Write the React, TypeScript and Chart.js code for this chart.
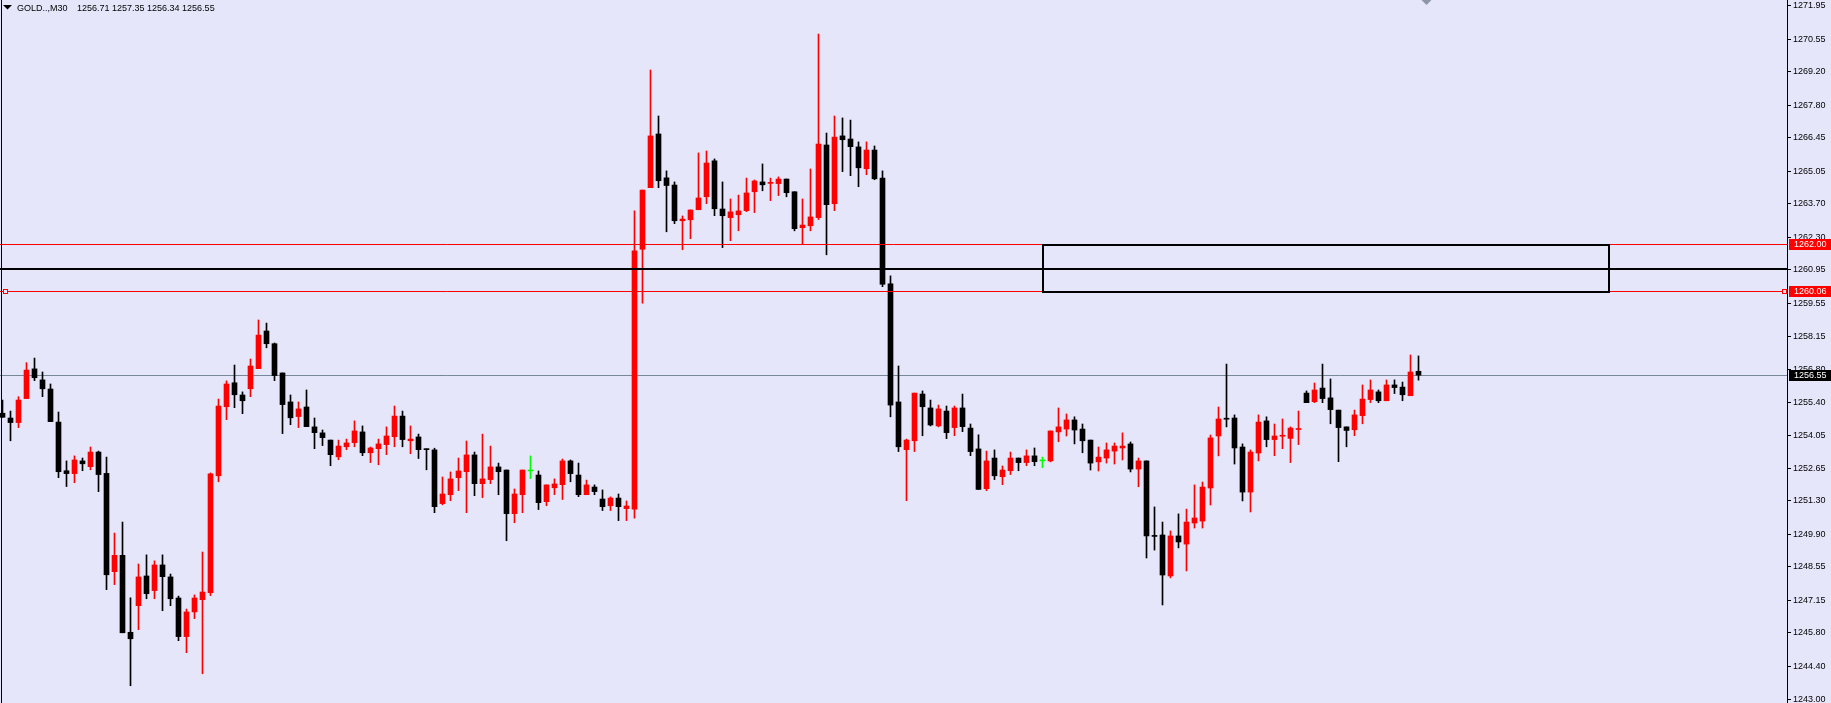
import React, { useEffect, useRef } from 'react';
import { Chart, registerables } from 'chart.js';

Chart.register(...registerables);

const SYMBOL = 'GOLD..,M30';

const OPEN = [
  1254.96, 1254.76, 1254.57, 1255.57, 1256.81, 1256.35, 1255.97, 1254.59, 1252.56, 1252.44,
  1252.97, 1252.73, 1253.34, 1252.45, 1248.35, 1249.03, 1245.82, 1246.93, 1248.17, 1247.56,
  1248.63, 1248.13, 1247.25, 1245.64, 1246.67, 1247.18, 1247.47, 1252.35, 1255.23, 1256.23,
  1255.72, 1255.98, 1256.82, 1258.39, 1257.86, 1256.64, 1255.43, 1254.82, 1255.22, 1254.39,
  1254.14, 1253.84, 1253.14, 1253.56, 1253.73, 1254.18, 1253.31, 1253.48, 1253.65, 1253.98,
  1254.84, 1253.81, 1253.97, 1253.47, 1253.43, 1251.19, 1251.56, 1252.27, 1252.52, 1253.22,
  1252.02, 1252.19, 1252.72, 1252.59, 1250.77, 1251.56, 1252.55, 1252.38, 1251.27, 1251.85,
  1251.98, 1252.97, 1252.38, 1251.56, 1251.88, 1251.38, 1251.10, 1251.42, 1250.98, 1250.96,
  1261.80, 1264.37, 1266.61, 1264.78, 1264.48, 1262.99, 1263.03, 1263.45, 1263.99, 1265.49,
  1263.48, 1263.12, 1263.24, 1263.41, 1264.20, 1264.61, 1264.55, 1264.54, 1264.73, 1264.20,
  1262.70, 1262.78, 1263.12, 1266.15, 1263.70, 1266.53, 1266.40, 1266.07, 1265.16, 1265.94,
  1264.77, 1260.36, 1255.43, 1253.44, 1253.81, 1255.76, 1255.18, 1254.43, 1255.05, 1254.36,
  1255.18, 1254.34, 1253.47, 1251.81, 1253.09, 1252.31, 1252.56, 1253.09, 1252.90, 1253.18,
  1252.97, 1252.97, 1254.18, 1254.30, 1254.68, 1254.30, 1253.84, 1252.93, 1253.09, 1253.38,
  1253.51, 1253.68, 1252.63, 1252.97, 1249.84, 1249.88, 1248.17, 1249.84, 1249.50, 1250.38,
  1250.46, 1251.84, 1254.01, 1254.72, 1254.76, 1253.55, 1251.67, 1253.30, 1254.64, 1253.86,
  1254.00, 1253.91, 1254.28, 1255.80, 1255.44, 1256.01, 1255.60, 1255.09, 1254.39, 1254.27,
  1254.86, 1255.53, 1255.85, 1255.48, 1256.14, 1256.05, 1255.69, 1256.71,
];

const HIGH = [
  1255.51, 1255.05, 1255.65, 1257.07, 1257.26, 1256.68, 1256.18, 1255.01, 1252.97, 1253.18,
  1253.09, 1253.55, 1253.38, 1253.13, 1249.96, 1250.42, 1247.26, 1248.67, 1249.05, 1248.80,
  1249.05, 1248.25, 1247.33, 1246.79, 1247.38, 1249.17, 1252.47, 1255.55, 1256.31, 1256.97,
  1255.85, 1257.22, 1258.85, 1258.72, 1257.89, 1256.64, 1255.72, 1255.43, 1255.93, 1254.76,
  1254.26, 1253.84, 1253.84, 1253.88, 1254.64, 1254.43, 1253.55, 1253.88, 1254.39, 1255.26,
  1255.05, 1254.43, 1254.09, 1253.47, 1253.50, 1252.30, 1252.51, 1253.09, 1253.80, 1253.34,
  1254.09, 1253.59, 1252.88, 1252.59, 1251.80, 1252.59, 1253.18, 1252.55, 1251.97, 1252.22,
  1253.05, 1253.01, 1252.88, 1252.17, 1251.97, 1251.76, 1251.47, 1251.59, 1251.30, 1263.40,
  1264.27, 1269.28, 1267.36, 1265.07, 1264.61, 1263.19, 1263.44, 1265.82, 1265.90, 1265.57,
  1264.61, 1263.90, 1264.06, 1264.77, 1264.69, 1265.36, 1264.77, 1264.82, 1264.73, 1264.20,
  1263.90, 1265.15, 1270.78, 1266.65, 1267.36, 1267.28, 1267.19, 1266.28, 1266.28, 1266.11,
  1265.07, 1260.69, 1256.93, 1253.88, 1255.80, 1255.89, 1255.51, 1255.30, 1255.26, 1255.26,
  1255.76, 1254.51, 1254.06, 1253.38, 1253.43, 1252.76, 1253.34, 1253.09, 1253.43, 1253.51,
  1253.13, 1254.22, 1255.18, 1254.93, 1254.81, 1254.51, 1253.84, 1253.55, 1253.72, 1253.72,
  1254.14, 1253.76, 1253.09, 1252.97, 1251.05, 1250.42, 1250.05, 1250.76, 1250.96, 1251.97,
  1252.09, 1254.05, 1255.22, 1257.01, 1254.89, 1253.68, 1253.43, 1254.89, 1254.81, 1254.51,
  1254.72, 1254.39, 1255.05, 1255.89, 1256.22, 1257.01, 1256.39, 1255.09, 1254.39, 1255.09,
  1256.14, 1256.35, 1255.93, 1256.35, 1256.35, 1256.26, 1257.39, 1257.35,
];

const LOW = [
  1254.79, 1253.81, 1254.36, 1255.57, 1256.32, 1255.65, 1254.61, 1252.27, 1251.90, 1252.06,
  1252.56, 1252.60, 1251.69, 1247.60, 1247.81, 1245.80, 1243.59, 1245.93, 1247.22, 1247.22,
  1246.72, 1246.93, 1245.47, 1244.97, 1246.39, 1244.09, 1247.35, 1252.10, 1254.69, 1255.19,
  1254.94, 1255.65, 1256.82, 1257.69, 1256.32, 1254.11, 1254.48, 1254.36, 1254.40, 1253.48,
  1253.61, 1252.77, 1253.02, 1253.44, 1253.56, 1253.19, 1252.90, 1252.81, 1253.23, 1253.56,
  1253.56, 1253.27, 1253.07, 1252.60, 1250.81, 1251.14, 1251.31, 1251.73, 1250.81, 1251.52,
  1251.44, 1252.02, 1251.56, 1249.64, 1250.39, 1250.81, 1252.23, 1250.94, 1251.10, 1251.56,
  1251.36, 1252.10, 1251.48, 1251.56, 1251.56, 1250.90, 1250.90, 1250.48, 1250.48, 1250.58,
  1259.55, 1264.37, 1264.37, 1262.53, 1262.87, 1261.78, 1262.24, 1263.45, 1263.70, 1263.20,
  1261.87, 1262.16, 1262.57, 1263.37, 1263.33, 1264.24, 1263.83, 1264.04, 1263.99, 1262.57,
  1262.03, 1262.57, 1263.04, 1261.57, 1263.41, 1265.04, 1264.87, 1264.41, 1264.91, 1264.70,
  1260.24, 1254.81, 1253.36, 1251.31, 1253.36, 1254.02, 1254.43, 1254.39, 1253.90, 1254.02,
  1254.19, 1253.19, 1251.78, 1251.73, 1252.19, 1251.98, 1252.40, 1252.56, 1252.77, 1252.77,
  1252.69, 1252.93, 1253.77, 1254.01, 1253.68, 1253.31, 1252.59, 1252.55, 1252.88, 1252.84,
  1253.01, 1252.51, 1251.89, 1248.92, 1249.25, 1246.96, 1248.09, 1249.34, 1248.38, 1250.17,
  1250.17, 1251.13, 1253.18, 1254.39, 1252.84, 1251.30, 1250.84, 1252.97, 1253.56, 1253.19,
  1253.48, 1252.90, 1253.65, 1255.40, 1255.40, 1255.40, 1254.52, 1252.94, 1253.56, 1254.02,
  1254.52, 1255.40, 1255.40, 1255.48, 1255.78, 1255.48, 1255.69, 1256.34,
];

const CLOSE = [
  1254.79, 1254.57, 1255.51, 1256.76, 1256.44, 1255.98, 1254.61, 1252.52, 1252.44, 1253.01,
  1252.85, 1253.34, 1252.40, 1248.22, 1249.03, 1245.80, 1245.55, 1248.13, 1247.43, 1248.63,
  1248.14, 1247.22, 1245.64, 1246.67, 1247.25, 1247.50, 1252.43, 1255.26, 1256.18, 1255.73,
  1255.48, 1256.93, 1258.22, 1257.86, 1256.53, 1255.32, 1254.77, 1255.14, 1254.40, 1254.15,
  1253.94, 1253.23, 1253.59, 1253.72, 1254.22, 1253.31, 1253.51, 1253.68, 1254.01, 1254.84,
  1253.86, 1253.88, 1253.44, 1253.44, 1251.06, 1251.59, 1252.22, 1252.55, 1253.22, 1252.02,
  1252.22, 1252.72, 1252.52, 1250.77, 1251.59, 1252.59, 1252.55, 1251.23, 1251.97, 1252.01,
  1252.97, 1252.44, 1251.56, 1251.97, 1251.69, 1251.06, 1251.42, 1251.06, 1251.09, 1261.73,
  1264.27, 1266.53, 1264.66, 1264.46, 1262.99, 1263.06, 1263.44, 1263.94, 1265.40, 1263.49,
  1263.20, 1263.36, 1263.40, 1264.15, 1264.65, 1264.49, 1264.57, 1264.73, 1264.16, 1262.66,
  1262.81, 1263.15, 1266.19, 1263.66, 1266.48, 1266.37, 1266.08, 1265.20, 1265.94, 1264.74,
  1260.34, 1255.30, 1253.56, 1253.84, 1255.80, 1255.23, 1254.47, 1255.14, 1254.15, 1255.18,
  1254.40, 1253.36, 1251.78, 1252.97, 1252.35, 1252.59, 1253.09, 1252.90, 1253.18, 1252.94,
  1252.97, 1254.22, 1254.39, 1254.68, 1254.26, 1253.81, 1252.88, 1253.13, 1253.43, 1253.59,
  1253.59, 1252.63, 1252.97, 1249.84, 1249.82, 1248.21, 1249.84, 1249.59, 1250.42, 1250.59,
  1251.88, 1253.93, 1254.72, 1254.71, 1253.51, 1251.67, 1253.34, 1254.59, 1253.86, 1254.01,
  1254.01, 1254.34, 1254.29, 1255.40, 1255.93, 1255.57, 1255.11, 1254.36, 1254.24, 1254.89,
  1255.55, 1255.93, 1255.48, 1256.14, 1256.03, 1255.73, 1256.68, 1256.55,
];

const Y_TICKS = [
  1271.95, 1270.55, 1269.2, 1267.8, 1266.45, 1265.05, 1263.7, 1262.3, 1260.95, 1259.55, 1258.15,
  1256.8, 1255.4, 1254.05, 1252.65, 1251.3, 1249.9, 1248.55, 1247.15, 1245.8, 1244.4, 1243.0,
];
const Y_RANGE = [1242.87, 1272.2];
const X_RANGE = [-0.3125, 223.0625];

const RED_LEVELS = [1262.0, 1260.06];
const BLACK_LEVEL = 1260.97;
const BID = 1256.55;
const ZONE_X = [130, 200.8];
const ZONE_Y = [1260.03, 1261.98];

const BG = '#E6E6FA';
const UP_COLOR = '#FF0000';
const DOWN_COLOR = '#000000';
const DOJI_COLOR = '#00FF00';
const BID_COLOR = '#778899';
const FONT_FAMILY = '"Liberation Sans", Arial, sans-serif';

function candleColor(i: number): string {
  if (CLOSE[i] > OPEN[i]) return UP_COLOR;
  if (CLOSE[i] < OPEN[i]) return DOWN_COLOR;
  return DOJI_COLOR;
}

export default function App() {
  const ref = useRef<HTMLCanvasElement>(null);

  useEffect(() => {
    const canvas = ref.current;
    if (!canvas) return;
    const idx = OPEN.map((_, i) => i);
    const colors = idx.map(candleColor);

    const mt4Plugin = {
      id: 'mt4',
      beforeDraw(chart: any) {
        const ctx = chart.ctx;
        ctx.save();
        ctx.fillStyle = BG;
        ctx.fillRect(0, 0, chart.width, chart.height);
        ctx.restore();
      },
      beforeDatasetsDraw(chart: any) {
        const { ctx, chartArea: a } = chart;
        const y = chart.scales.y;
        const py = Math.round(y.getPixelForValue(BID)) + 0.5;
        ctx.save();
        ctx.strokeStyle = BID_COLOR;
        ctx.lineWidth = 1;
        ctx.beginPath();
        ctx.moveTo(a.left, py);
        ctx.lineTo(a.right, py);
        ctx.stroke();
        ctx.restore();
      },
      afterDatasetsDraw(chart: any) {
        const { ctx, chartArea: a } = chart;
        const x = chart.scales.x;
        const y = chart.scales.y;
        ctx.save();
        ctx.strokeStyle = '#FF0000';
        ctx.lineWidth = 1;
        RED_LEVELS.forEach((v) => {
          const py = Math.round(y.getPixelForValue(v)) + 0.5;
          ctx.beginPath();
          ctx.moveTo(a.left, py);
          ctx.lineTo(a.right, py);
          ctx.stroke();
        });
        const by = Math.round(y.getPixelForValue(BLACK_LEVEL));
        ctx.fillStyle = '#000000';
        ctx.fillRect(a.left, by - 1, a.right - a.left, 2);

        const zx0 = Math.round(x.getPixelForValue(ZONE_X[0]));
        const zx1 = Math.round(x.getPixelForValue(ZONE_X[1]));
        const zy0 = Math.round(y.getPixelForValue(ZONE_Y[1]));
        const zy1 = Math.round(y.getPixelForValue(ZONE_Y[0]));
        ctx.strokeStyle = '#000000';
        ctx.lineWidth = 2;
        ctx.strokeRect(zx0, zy0, zx1 - zx0, zy1 - zy0);

        const sy = Math.round(y.getPixelForValue(RED_LEVELS[1]));
        [a.left + 3, a.right - 5].forEach((sx) => {
          ctx.fillStyle = BG;
          ctx.fillRect(sx, sy - 2, 5, 5);
          ctx.strokeStyle = '#FF0000';
          ctx.lineWidth = 1;
          ctx.strokeRect(sx + 0.5, sy - 2 + 0.5, 4, 4);
        });
        ctx.restore();
      },
      afterDraw(chart: any) {
        const { ctx, chartArea: a } = chart;
        const x = chart.scales.x;
        const y = chart.scales.y;
        ctx.save();
        ctx.font = `9px ${FONT_FAMILY}`;
        const marks: [number, string][] = [
          [RED_LEVELS[0], '#FF0000'],
          [RED_LEVELS[1], '#FF0000'],
          [BID, '#000000'],
        ];
        marks.forEach(([v, bg]) => {
          const py = Math.round(y.getPixelForValue(v));
          ctx.fillStyle = bg;
          ctx.fillRect(a.right + 2, py - 5, chart.width - a.right - 2, 11);
          ctx.fillStyle = '#FFFFFF';
          ctx.textAlign = 'left';
          ctx.textBaseline = 'middle';
          ctx.fillText(v.toFixed(2), a.right + 7, py + 0.5);
        });

        // left frame
        ctx.fillStyle = '#000000';
        ctx.fillRect(1, 0, 1, chart.height);

        // title
        ctx.beginPath();
        ctx.moveTo(3, 5);
        ctx.lineTo(12, 5);
        ctx.lineTo(7.5, 9.5);
        ctx.closePath();
        ctx.fill();
        const last = OPEN.length - 1;
        const ohlc = [OPEN[last], HIGH[last], LOW[last], CLOSE[last]].map((v) => v.toFixed(2)).join(' ');
        ctx.textAlign = 'left';
        ctx.textBaseline = 'alphabetic';
        ctx.fillText(SYMBOL, 17, 10.5);
        ctx.fillText(ohlc, 77, 10.5);

        // chart shift marker
        const shx = x.getPixelForValue(OPEN.length);
        ctx.fillStyle = '#8E96AA';
        ctx.beginPath();
        ctx.moveTo(shx - 5, 0);
        ctx.lineTo(shx + 5, 0);
        ctx.lineTo(shx, 5);
        ctx.closePath();
        ctx.fill();
        ctx.restore();
      },
    };

    const chart = new Chart(canvas, {
      type: 'bar',
      data: {
        datasets: [
          {
            label: 'body',
            data: idx.map((i) => ({ x: i, y: [OPEN[i], CLOSE[i]] })) as any,
            backgroundColor: colors,
            barThickness: 5,
            minBarLength: 1,
            grouped: false,
            borderWidth: 0,
            borderSkipped: false,
            order: 1,
          } as any,
          {
            label: 'wick',
            data: idx.map((i) => ({ x: i, y: [LOW[i], HIGH[i]] })) as any,
            backgroundColor: colors,
            barThickness: 1,
            minBarLength: 1,
            grouped: false,
            borderWidth: 0,
            borderSkipped: false,
            order: 2,
          } as any,
        ],
      },
      options: {
        responsive: false,
        maintainAspectRatio: false,
        animation: false,
        layout: { padding: 0 },
        plugins: {
          legend: { display: false },
          tooltip: { enabled: false },
          title: { display: false },
        },
        scales: {
          x: {
            type: 'linear',
            display: false,
            offset: false,
            min: X_RANGE[0],
            max: X_RANGE[1],
            grid: { display: false },
          },
          y: {
            type: 'linear',
            position: 'right',
            min: Y_RANGE[0],
            max: Y_RANGE[1],
            beginAtZero: false,
            afterFit: (s: any) => {
              s.width = 44;
              s.paddingTop = 0;
              s.paddingBottom = 0;
            },
            afterBuildTicks: (s: any) => {
              s.ticks = Y_TICKS.map((v) => ({ value: v }));
            },
            ticks: {
              autoSkip: false,
              padding: 2,
              color: '#000000',
              font: { family: FONT_FAMILY, size: 9 },
              callback: (v: any) => Number(v).toFixed(2),
            },
            grid: {
              display: true,
              drawOnChartArea: false,
              drawTicks: true,
              tickLength: 4,
              tickColor: '#000000',
              color: '#000000',
            },
            border: { display: true, color: '#000000', width: 1 },
          },
        },
      } as any,
      plugins: [mt4Plugin],
    });

    return () => chart.destroy();
  }, []);

  return (
    <div style={{ position: 'absolute', left: 0, top: 0, width: 1831, height: 703 }}>
      <canvas ref={ref} width={1831} height={703} style={{ display: 'block' }} />
    </div>
  );
}
